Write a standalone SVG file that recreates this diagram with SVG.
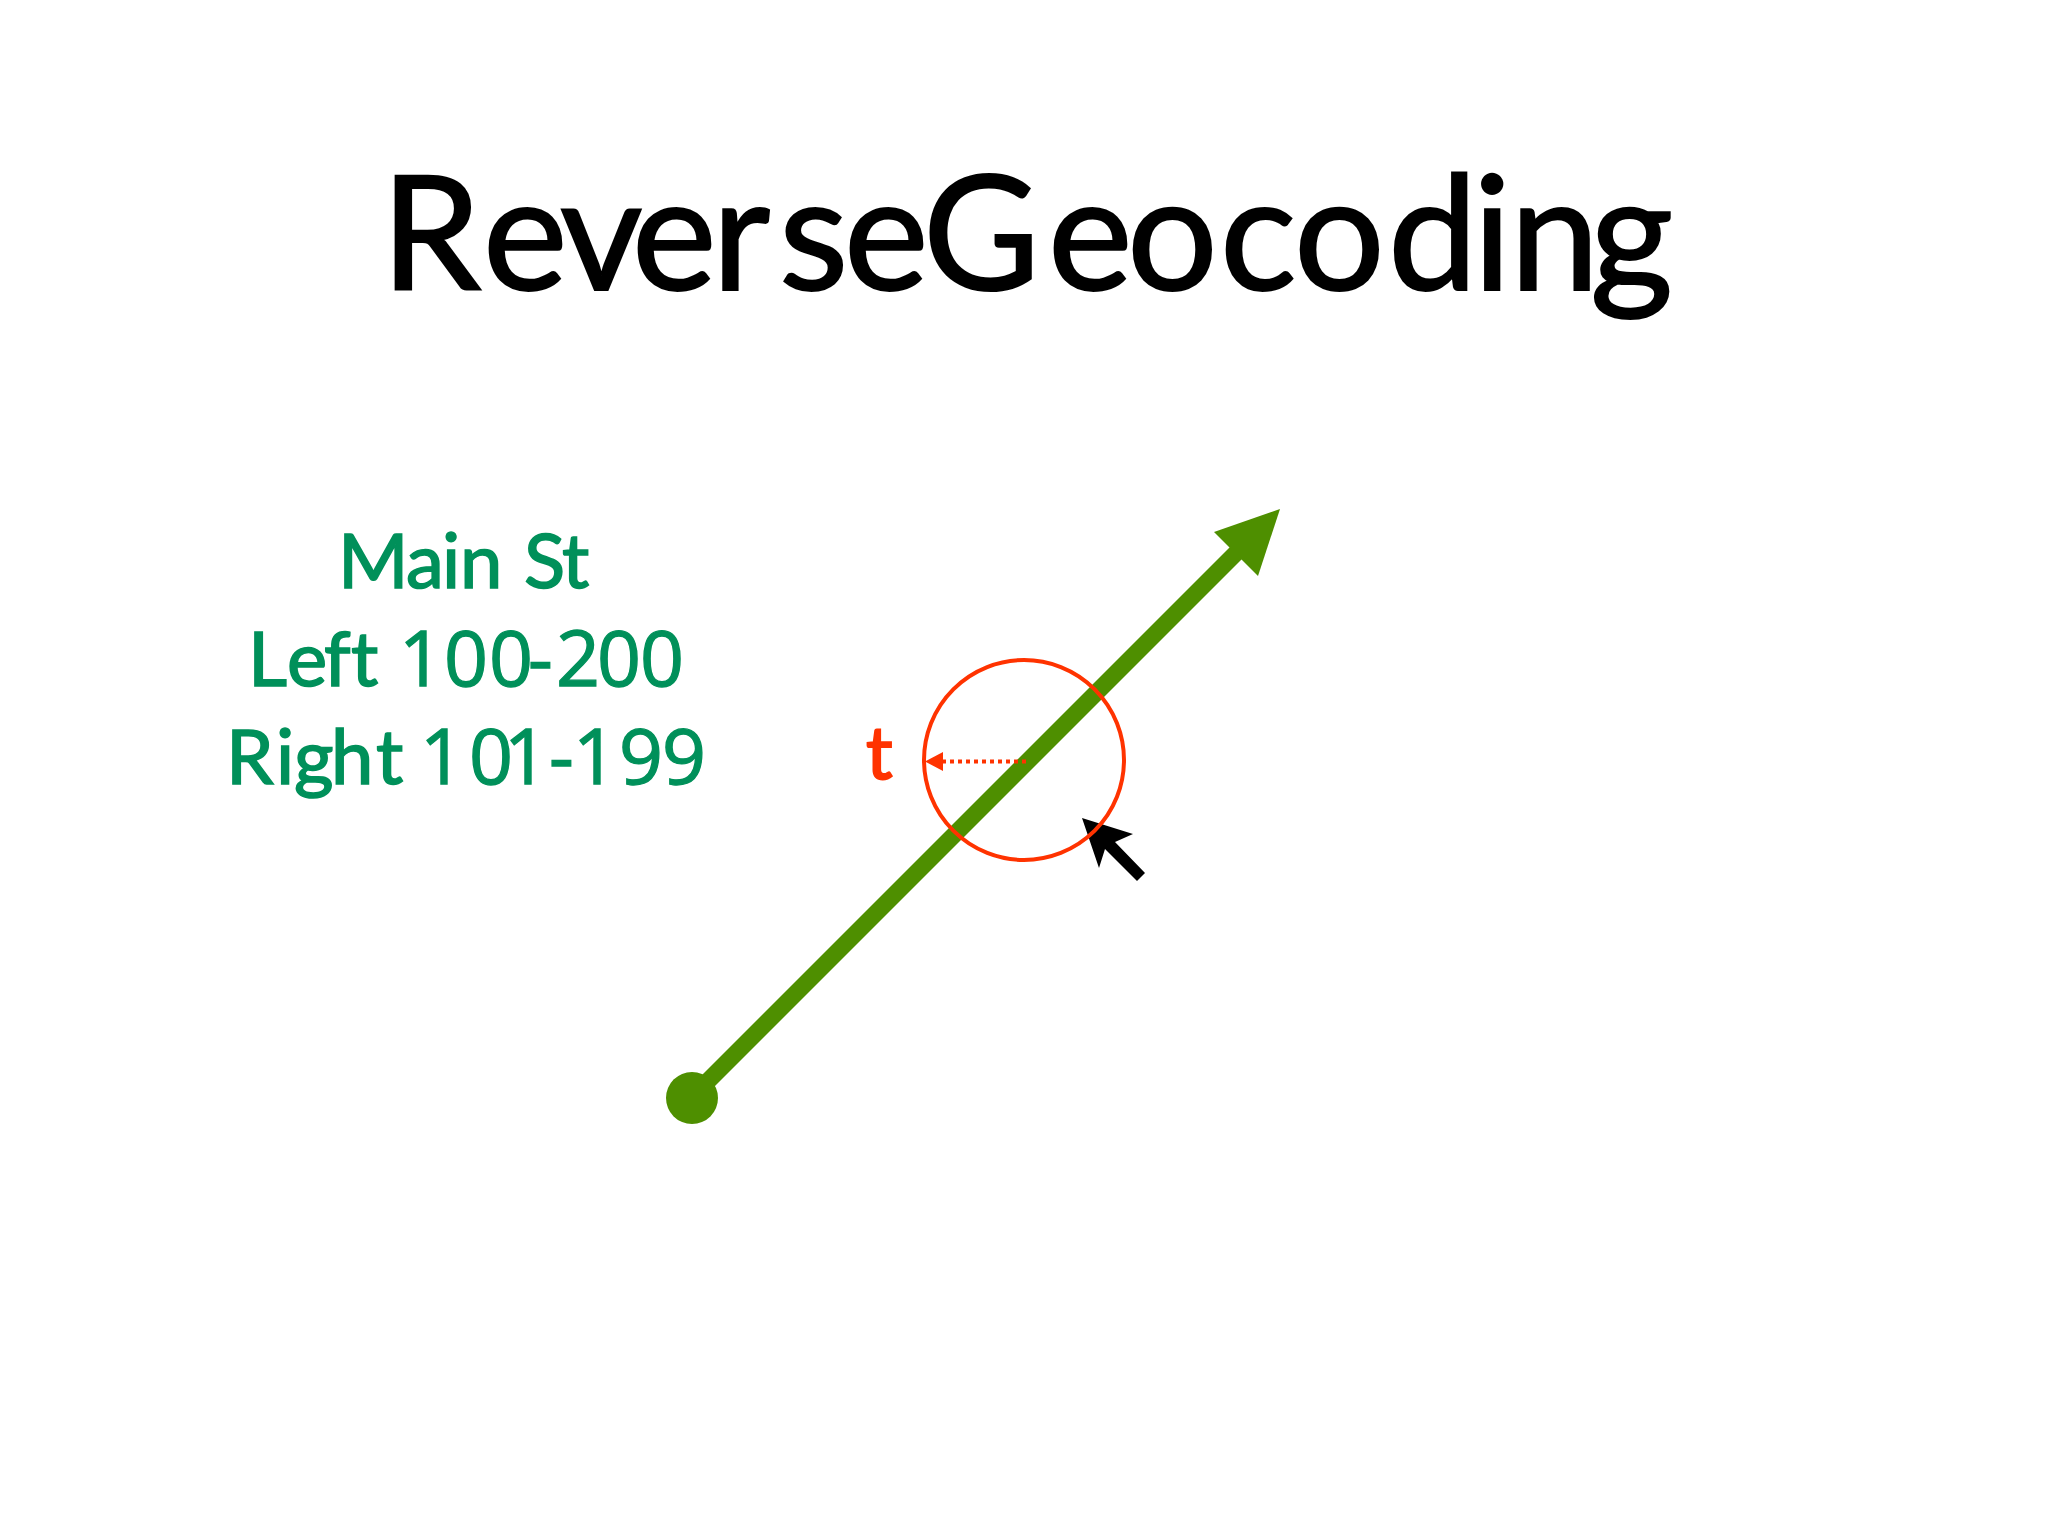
<svg xmlns="http://www.w3.org/2000/svg" width="2048" height="1536" viewBox="0 0 2048 1536">
<style>
text{font-family:"Lato","Liberation Sans",sans-serif}
.title{font-size:160px;fill:#000;stroke:#000;stroke-width:2}
.addr{font-size:76px;fill:#00905a;stroke:#00905a;stroke-width:1.6}
.num{font-family:"Open Sans","Liberation Sans",sans-serif;font-size:77px;stroke-width:1.3}
.t{font-size:74px;fill:#ff3300;stroke:#ff3300;stroke-width:2}
</style>
<rect width="2048" height="1536" fill="#ffffff"/>
<g id="title"><text class="title" y="290" x="381 483 560 632 712 779 844 923 1048 1127 1220 1294 1388 1473 1510 1590">ReverseGeocoding</text></g>
<g id="address">
<text class="addr" y="588" x="338 406 442 460 510 524 562">Main St</text>
<text class="addr" y="686" x="248 287 324 351 380">Left <tspan class="num" x="399 444 489 528 556 597 640">100-200</tspan></text>
<text class="addr" y="784" x="226 276 294 331 376 400">Right <tspan class="num" x="420 469 504 549 573 619 662">101-199</tspan></text>
</g>
<g id="connectors">
<g id="cursor"><polygon points="1082,818 1133,834 1115,842 1145,873 1137,881 1105,849 1099,868" fill="#000"/></g>
<g id="street">
<line x1="692" y1="1097" x2="1240" y2="549" stroke="#4e8f00" stroke-width="17"/>
<polygon points="1280,509 1258,576 1214,532" fill="#4e8f00"/>
<circle cx="692" cy="1098" r="26" fill="#4e8f00"/>
</g>
<g id="radius">
<line x1="1026" y1="761.5" x2="940" y2="761.5" stroke="#ff3300" stroke-width="4" stroke-dasharray="4 4"/>
<polygon points="925,761.5 943,752 943,771" fill="#ff3300"/>
</g>
</g>
<g id="search-circle"><circle cx="1024" cy="760" r="100" fill="none" stroke="#ff3300" stroke-width="4"/></g>
<g id="t-label"><text class="t" x="866" y="779">t</text></g>
</svg>
